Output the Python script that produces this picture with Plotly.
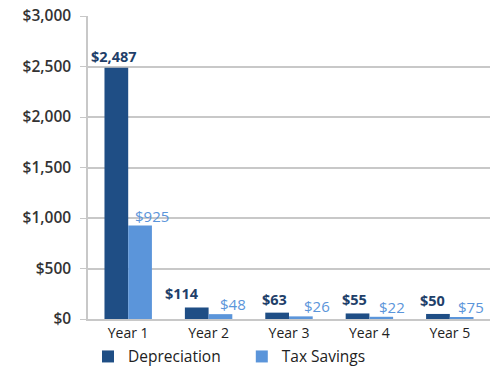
import plotly.graph_objects as go

years = ["Year 1", "Year 2", "Year 3", "Year 4", "Year 5"]
depreciation = [2487, 114, 63, 55, 50]
tax_savings = [925, 48, 26, 22, 20]
depreciation_labels = ["$2,487", "$114", "$63", "$55", "$50"]
tax_savings_labels = ["$925", "$48", "$26", "$22", "$75"]
tick_vals = [0, 500, 1000, 1500, 2000, 2500, 3000]
tick_text = ["$0", "$500", "$1,000", "$1,500", "$2,000", "$2,500", "$3,000"]

DARK = "#1F4E85"
LIGHT = "#5B95DA"
NBSP = "\u00a0"

fig = go.Figure()
fig.add_trace(go.Bar(name="Depreciation" + NBSP * 4, x=years, y=depreciation,
                     marker=dict(color=DARK, line=dict(width=0))))
fig.add_trace(go.Bar(name="Tax Savings", x=years, y=tax_savings,
                     marker=dict(color=LIGHT, line=dict(width=0))))

dark_shift = [-14, -27, -15, -15, -17]
light_shift = [24, 24, 28, 23, 21]
for i, (yr, v, lab) in enumerate(zip(years, depreciation, depreciation_labels)):
    fig.add_annotation(x=yr, y=v, text=lab, showarrow=False, yanchor="bottom",
                       xshift=dark_shift[i], yshift=0 if i == 0 else 2,
                       font=dict(family="Open Sans", size=14.5, color="#1F3F6A", weight="bold"))
for i, (yr, v, lab) in enumerate(zip(years, tax_savings, tax_savings_labels)):
    fig.add_annotation(x=yr, y=v, text=lab, showarrow=False, yanchor="bottom",
                       xshift=light_shift[i], yshift=-2,
                       font=dict(family="Open Sans", size=15, color=LIGHT))

fig.update_layout(
    width=501, height=371,
    margin=dict(l=88, r=11, t=16, b=52, autoexpand=False),
    paper_bgcolor="white", plot_bgcolor="white",
    barmode="group", bargap=0.41, bargroupgap=0,
    font=dict(family="Open Sans", size=13, color="#222"),
    legend=dict(orientation="h", x=0, xanchor="left",
                y=-0.125, yanchor="middle",
                font=dict(size=15.5, color="#222"), itemwidth=30,
                traceorder="normal"),
    showlegend=True,
)
fig.update_yaxes(range=[0, 3000], tickvals=tick_vals, ticktext=tick_text,
                 showgrid=True, gridcolor="#c8c8c8", gridwidth=1.5,
                 showline=True, linecolor="#c8c8c8", linewidth=1.5,
                 zeroline=False, ticks="outside", ticklen=6, tickcolor="#c8c8c8",
                 tickfont=dict(family="Open Sans", size=15.5, color="#333", weight=600),
                 ticklabelstandoff=6)
fig.update_xaxes(showline=True, linecolor="#c8c8c8", linewidth=1.5,
                 tickfont=dict(size=14, color="#222"), ticks="")
fig.write_html("out.html")
